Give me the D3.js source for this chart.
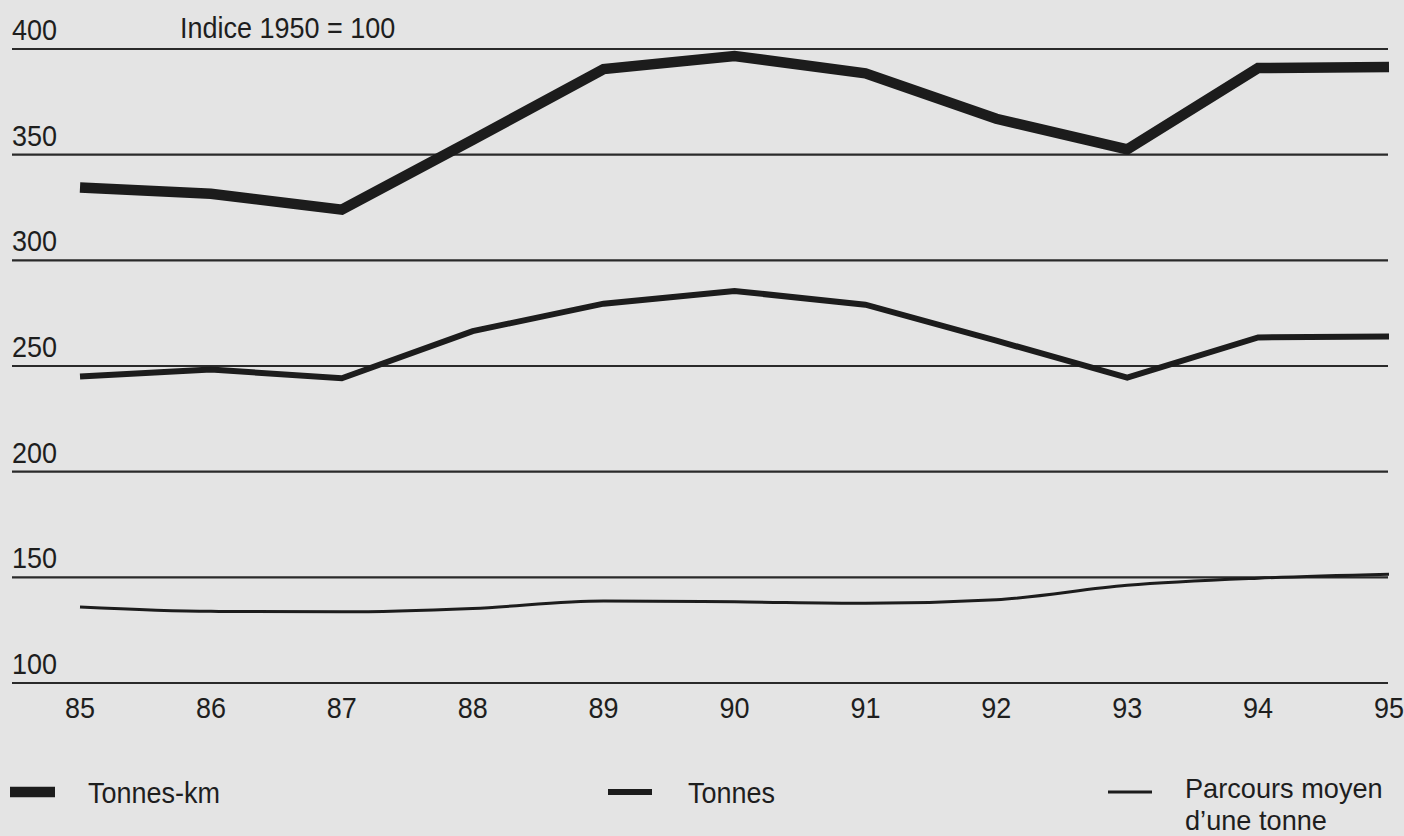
<!DOCTYPE html>
<html>
<head>
<meta charset="utf-8">
<script src="https://cdn.jsdelivr.net/npm/d3@7"></script>
<style>
  html, body { margin: 0; padding: 0; background: #e4e4e4; }
  svg { display: block; }
  text { font-family: "Liberation Sans", Arial, "Helvetica Neue", sans-serif; fill: #1e1e1e; font-size: 30px; }
  text.two-line { font-size: 28px; }
</style>
</head>
<body>
<svg id="chart" width="1404" height="836"></svg>
<script>
// years on the x axis (1985 .. 1995)
const years = [85, 86, 87, 88, 89, 90, 91, 92, 93, 94, 95]
// index values, 1950 = 100
const tonnesKm = [334.5, 331.5, 324, 357, 390.5, 396.7, 388.5, 367, 352.5, 391, 391.5]
const tonnes   = [245, 248.3, 244.2, 266.5, 279.5, 285.5, 279, 262, 244.5, 263.5, 264]
const parcours = [136, 133.9, 133.7, 135.3, 138.8, 138.4, 137.7, 139.4, 146.2, 149.6, 151.5]
// y gridlines
const yTicks = [100, 150, 200, 250, 300, 350, 400]
const unitLabel = "Indice 1950 = 100"

const series = [
    {name: ["Tonnes-km"], values: tonnesKm, width: 10.5, curve: d3.curveLinear},
    {name: ["Tonnes"], values: tonnes, width: 6, curve: d3.curveLinear},
    {name: ["Parcours moyen", "d\u2019une tonne"], values: parcours, width: 3, curve: d3.curveMonotoneX}
]

// condensed look: squeeze the regular sans horizontally
const place = (x, y, k = 0.9) => `translate(${x},${y}) scale(${k},1)`

const svg = d3.select("#chart")

// scales
const xScale = d3.scaleLinear().domain([85, 95]).range([80, 1389])
const yScale = d3.scaleLinear().domain([100, 400]).range([683, 49])

// gridlines
svg.append("g").selectAll("line")
    .data(yTicks)
    .join("line")
    .attr("x1", 12).attr("x2", 1388)
    .attr("y1", d => yScale(d)).attr("y2", d => yScale(d))
    .attr("stroke", "#2a2a2a")
    .attr("stroke-width", 2.2)

// y labels sit above their gridline
svg.append("g").selectAll("text")
    .data(yTicks)
    .join("text")
    .attr("transform", d => place(12, yScale(d) - 9))
    .text(d => d)

svg.append("text")
    .attr("transform", place(180, 38))
    .text(unitLabel)

// x labels
svg.append("g").selectAll("text")
    .data(years)
    .join("text")
    .attr("text-anchor", "middle")
    .attr("transform", d => place(xScale(d), 718))
    .text(d => d)

// the three lines
series.forEach(s => {
    const line = d3.line()
        .x((d, i) => xScale(years[i]))
        .y(d => yScale(d))
        .curve(s.curve)
    svg.append("path")
        .datum(s.values)
        .attr("d", line)
        .attr("fill", "none")
        .attr("stroke", "#1c1c1c")
        .attr("stroke-width", s.width)
        .attr("stroke-linejoin", "miter")
})

// legend
const legendX = [10, 608, 1108]
const legendTextX = [88, 688, 1185]
const legend = svg.append("g").selectAll("g")
    .data(series)
    .join("g")

legend.append("line")
    .attr("x1", (d, i) => legendX[i])
    .attr("x2", (d, i) => legendX[i] + (i === 0 ? 45 : 44))
    .attr("y1", 792).attr("y2", 792)
    .attr("stroke", "#1c1c1c")
    .attr("stroke-width", d => d.width)

legend.each(function(d, i) {
    const multi = d.name.length > 1
    d3.select(this).selectAll("text")
        .data(d.name)
        .join("text")
        .classed("two-line", multi)
        .attr("transform", (t, j) => multi
            ? place(legendTextX[i], 798 + j * 32, 0.97)
            : place(legendTextX[i], 803))
        .text(t => t)
})
</script>
</body>
</html>
